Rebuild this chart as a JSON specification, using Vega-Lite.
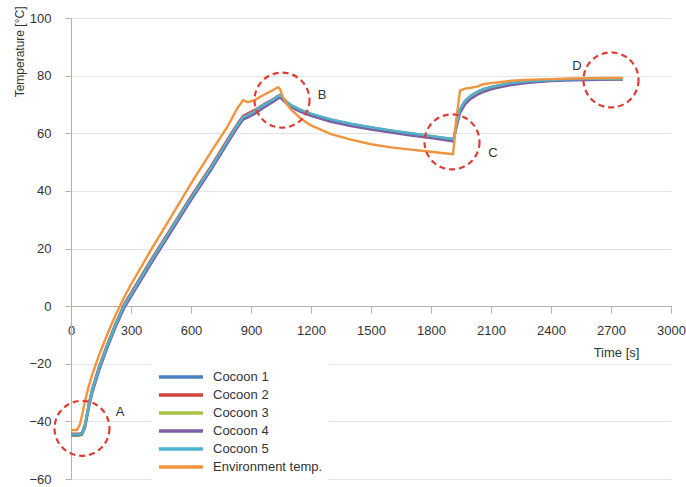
{
  "$schema": "https://vega.github.io/schema/vega-lite/v6.json",
  "width": 600,
  "height": 461,
  "autosize": {"type": "none"},
  "padding": {"left": 71, "top": 18, "right": 15, "bottom": 8},
  "background": "white",
  "config": {"view": {"stroke": null}, "font": "Liberation Sans"},
  "datasets": {
    "temps": [
      {"t": 0, "c1": -44.5, "c2": -44.3, "c3": -45, "c4": -44.8, "c5": -44.5, "env": -43},
      {"t": 30, "c1": -44.5, "c2": -44.3, "c3": -45, "c4": -44.8, "c5": -44.5, "env": -43},
      {"t": 45, "c1": -44.4, "c2": -44.2, "c3": -44.9, "c4": -44.7, "c5": -44.4, "env": -41},
      {"t": 55, "c1": -44.2, "c2": -44, "c3": -44.7, "c4": -44.5, "c5": -44.2, "env": -38},
      {"t": 70, "c1": -41.5, "c2": -41, "c3": -42, "c4": -42.2, "c5": -41.5, "env": -33},
      {"t": 90, "c1": -34, "c2": -33.5, "c3": -34.5, "c4": -35, "c5": -34, "env": -27.5},
      {"t": 105, "c1": -29.5, "c2": -29, "c3": -30, "c4": -30.5, "c5": -29.5, "env": -24},
      {"t": 140, "c1": -21.5, "c2": -21, "c3": -22, "c4": -22.5, "c5": -21.5, "env": -17},
      {"t": 180, "c1": -14, "c2": -13.5, "c3": -14.3, "c4": -14.8, "c5": -14, "env": -10},
      {"t": 220, "c1": -7, "c2": -6.5, "c3": -7.3, "c4": -7.8, "c5": -7, "env": -3.5},
      {"t": 265, "c1": 0, "c2": 0.6, "c3": -0.3, "c4": -0.8, "c5": 0.1, "env": 3},
      {"t": 300, "c1": 4, "c2": 4.6, "c3": 3.7, "c4": 3.2, "c5": 4.1, "env": 7.5},
      {"t": 400, "c1": 15.5, "c2": 16.1, "c3": 15.2, "c4": 14.7, "c5": 15.6, "env": 19.5},
      {"t": 500, "c1": 26.5, "c2": 27.1, "c3": 26.2, "c4": 25.7, "c5": 26.6, "env": 31},
      {"t": 600, "c1": 37.5, "c2": 38.1, "c3": 37.2, "c4": 36.7, "c5": 37.6, "env": 42.5},
      {"t": 700, "c1": 48, "c2": 48.6, "c3": 47.7, "c4": 47.2, "c5": 48.1, "env": 53.5},
      {"t": 780, "c1": 57, "c2": 57.6, "c3": 56.7, "c4": 56.2, "c5": 57.1, "env": 62},
      {"t": 830, "c1": 62.5, "c2": 63.1, "c3": 62.2, "c4": 61.7, "c5": 62.6, "env": 68.5},
      {"t": 860, "c1": 65.5, "c2": 66, "c3": 65.2, "c4": 64.7, "c5": 65.6, "env": 71.5},
      {"t": 885, "c1": 66.3, "c2": 66.9, "c3": 66.1, "c4": 65.5, "c5": 66.4, "env": 70.8},
      {"t": 920, "c1": 67.6, "c2": 68.1, "c3": 67.4, "c4": 66.8, "c5": 67.7, "env": 71.6},
      {"t": 960, "c1": 69.4, "c2": 69.9, "c3": 69.2, "c4": 68.7, "c5": 69.6, "env": 73.2},
      {"t": 1000, "c1": 71, "c2": 71.4, "c3": 70.8, "c4": 70.4, "c5": 71.2, "env": 74.6},
      {"t": 1035, "c1": 72.6, "c2": 73, "c3": 72.4, "c4": 72, "c5": 72.8, "env": 76},
      {"t": 1045, "c1": 73, "c2": 73.3, "c3": 72.8, "c4": 72.4, "c5": 73.2, "env": 75.3},
      {"t": 1060, "c1": 72, "c2": 72.2, "c3": 71.8, "c4": 71.5, "c5": 72.3, "env": 72.5},
      {"t": 1080, "c1": 70.6, "c2": 70.8, "c3": 70.4, "c4": 70.1, "c5": 70.9, "env": 70},
      {"t": 1100, "c1": 69.5, "c2": 69.7, "c3": 69.3, "c4": 69, "c5": 69.8, "env": 68.3},
      {"t": 1150, "c1": 67.8, "c2": 68, "c3": 67.6, "c4": 67.3, "c5": 68.1, "env": 65},
      {"t": 1200, "c1": 66.5, "c2": 66.7, "c3": 66.3, "c4": 66, "c5": 66.8, "env": 62.7},
      {"t": 1300, "c1": 64.5, "c2": 64.7, "c3": 64.3, "c4": 64, "c5": 64.8, "env": 59.7},
      {"t": 1400, "c1": 63, "c2": 63.2, "c3": 62.8, "c4": 62.5, "c5": 63.3, "env": 57.8},
      {"t": 1500, "c1": 61.8, "c2": 62, "c3": 61.6, "c4": 61.3, "c5": 62.1, "env": 56.2},
      {"t": 1600, "c1": 60.7, "c2": 60.9, "c3": 60.5, "c4": 60.2, "c5": 61, "env": 55.1},
      {"t": 1700, "c1": 59.7, "c2": 59.9, "c3": 59.5, "c4": 59.2, "c5": 60, "env": 54.3},
      {"t": 1800, "c1": 58.8, "c2": 59, "c3": 58.6, "c4": 58.3, "c5": 59.1, "env": 53.6},
      {"t": 1900, "c1": 57.8, "c2": 58, "c3": 57.6, "c4": 57.3, "c5": 58.1, "env": 52.8},
      {"t": 1910, "c1": 57.6, "c2": 57.8, "c3": 57.4, "c4": 57.1, "c5": 57.9, "env": 52.8},
      {"t": 1915, "c1": 58.5, "c2": 58.7, "c3": 58.3, "c4": 58, "c5": 58.8, "env": 56},
      {"t": 1925, "c1": 62, "c2": 62.3, "c3": 61.8, "c4": 61.3, "c5": 62.2, "env": 64},
      {"t": 1945, "c1": 68, "c2": 68.3, "c3": 67.7, "c4": 67, "c5": 68.3, "env": 74.8},
      {"t": 1970, "c1": 71, "c2": 71.3, "c3": 70.7, "c4": 70, "c5": 71.3, "env": 75.5},
      {"t": 2000, "c1": 72.8, "c2": 73.1, "c3": 72.5, "c4": 72, "c5": 73.1, "env": 75.8},
      {"t": 2030, "c1": 74, "c2": 74.3, "c3": 73.8, "c4": 73.3, "c5": 74.3, "env": 76.2},
      {"t": 2060, "c1": 75, "c2": 75.3, "c3": 74.8, "c4": 74.3, "c5": 75.3, "env": 77},
      {"t": 2100, "c1": 75.8, "c2": 76.1, "c3": 75.6, "c4": 75.2, "c5": 76, "env": 77.4},
      {"t": 2150, "c1": 76.6, "c2": 76.8, "c3": 76.4, "c4": 76, "c5": 76.8, "env": 77.8},
      {"t": 2200, "c1": 77.2, "c2": 77.4, "c3": 77, "c4": 76.7, "c5": 77.4, "env": 78.2},
      {"t": 2300, "c1": 78, "c2": 78.1, "c3": 77.8, "c4": 77.6, "c5": 78.1, "env": 78.6},
      {"t": 2400, "c1": 78.4, "c2": 78.5, "c3": 78.3, "c4": 78.1, "c5": 78.5, "env": 78.8},
      {"t": 2500, "c1": 78.6, "c2": 78.7, "c3": 78.5, "c4": 78.4, "c5": 78.7, "env": 79},
      {"t": 2600, "c1": 78.7, "c2": 78.8, "c3": 78.6, "c4": 78.5, "c5": 78.8, "env": 79.1},
      {"t": 2700, "c1": 78.8, "c2": 78.9, "c3": 78.7, "c4": 78.6, "c5": 78.9, "env": 79.2},
      {"t": 2760, "c1": 78.8, "c2": 78.9, "c3": 78.7, "c4": 78.6, "c5": 78.9, "env": 79.2}
    ],
    "circles": [
      {"t": 55, "T": -42.4},
      {"t": 1055, "T": 71.5},
      {"t": 1905, "T": 57},
      {"t": 2700, "T": 78.5}
    ],
    "labels": [
      {"t": 245, "T": -36.8, "label": "A"},
      {"t": 1255, "T": 73.3, "label": "B"},
      {"t": 2110, "T": 53, "label": "C"},
      {"t": 2530, "T": 83.3, "label": "D"}
    ]
  },
  "layer": [
    {
      "data": {"name": "temps"},
      "transform": [{"fold": ["c1", "c2", "c3", "c4", "c5", "env"], "as": ["series", "temp"]}],
      "mark": {"type": "line", "strokeWidth": 2.4},
      "encoding": {
        "x": {
          "field": "t", "type": "quantitative",
          "scale": {"domain": [0, 3000], "nice": false},
          "axis": {
            "title": "Time [s]",
            "values": [0, 300, 600, 900, 1200, 1500, 1800, 2100, 2400, 2700, 3000],
            "format": "d",
            "offset": -173,
            "grid": false,
            "domainColor": "#bcb0aa",
            "tickColor": "#bcb0aa",
            "tickSize": 7,
            "labelFontSize": 13,
            "labelColor": "#333333",
            "labelPadding": 11,
            "labelFlush": false,
            "titleFontSize": 13,
            "titleFontWeight": "normal",
            "titleColor": "#333333",
            "titleX": 545,
            "titleY": 46,
            "titleAlign": "center",
            "titleBaseline": "middle"
          }
        },
        "y": {
          "field": "temp", "type": "quantitative",
          "scale": {"domain": [-60, 100], "nice": false},
          "axis": {
            "title": "Temperature [°C]",
            "values": [-60, -40, -20, 0, 20, 40, 60, 80, 100],
            "grid": true,
            "gridColor": "#e4e4e4",
            "domainColor": "#bcb0aa",
            "tickColor": "#bcb0aa",
            "tickSize": 6,
            "labelFontSize": 13,
            "labelColor": "#333333",
            "labelPadding": 14,
            "titleFontSize": 12,
            "titleFontWeight": "normal",
            "titleColor": "#333333",
            "titleAnchor": "end",
            "titleY": -12,
            "titlePadding": 2
          }
        },
        "color": {
          "field": "series", "type": "nominal",
          "scale": {
            "domain": ["c1", "c2", "c3", "c4", "c5", "env"],
            "range": ["#4a7fc1", "#d0463c", "#a8c341", "#7e5fa5", "#4cb3cf", "#f0953e"]
          },
          "legend": {
            "orient": "none",
            "legendX": 80,
            "legendY": 344,
            "title": null,
            "symbolType": "stroke",
            "symbolSize": 1936,
            "symbolStrokeWidth": 3.5,
            "clipHeight": 18,
            "rowPadding": 0,
            "labelFontSize": 13,
            "labelColor": "#333333",
            "labelOffset": 8,
            "fillColor": "white",
            "padding": 6,
            "labelExpr": "datum.label == 'env' ? 'Environment temp.' : 'Cocoon ' + slice(datum.label, 1)"
          }
        }
      }
    },
    {
      "data": {"name": "circles"},
      "mark": {"type": "point", "shape": "circle", "filled": false, "size": 3025, "stroke": "#e03c31", "strokeWidth": 2.2, "strokeDash": [6, 4], "opacity": 1},
      "encoding": {
        "x": {"field": "t", "type": "quantitative"},
        "y": {"field": "T", "type": "quantitative"}
      }
    },
    {
      "data": {"name": "labels"},
      "mark": {"type": "text", "fontSize": 13, "color": "#333333"},
      "encoding": {
        "x": {"field": "t", "type": "quantitative"},
        "y": {"field": "T", "type": "quantitative"},
        "text": {"field": "label"}
      }
    }
  ]
}
